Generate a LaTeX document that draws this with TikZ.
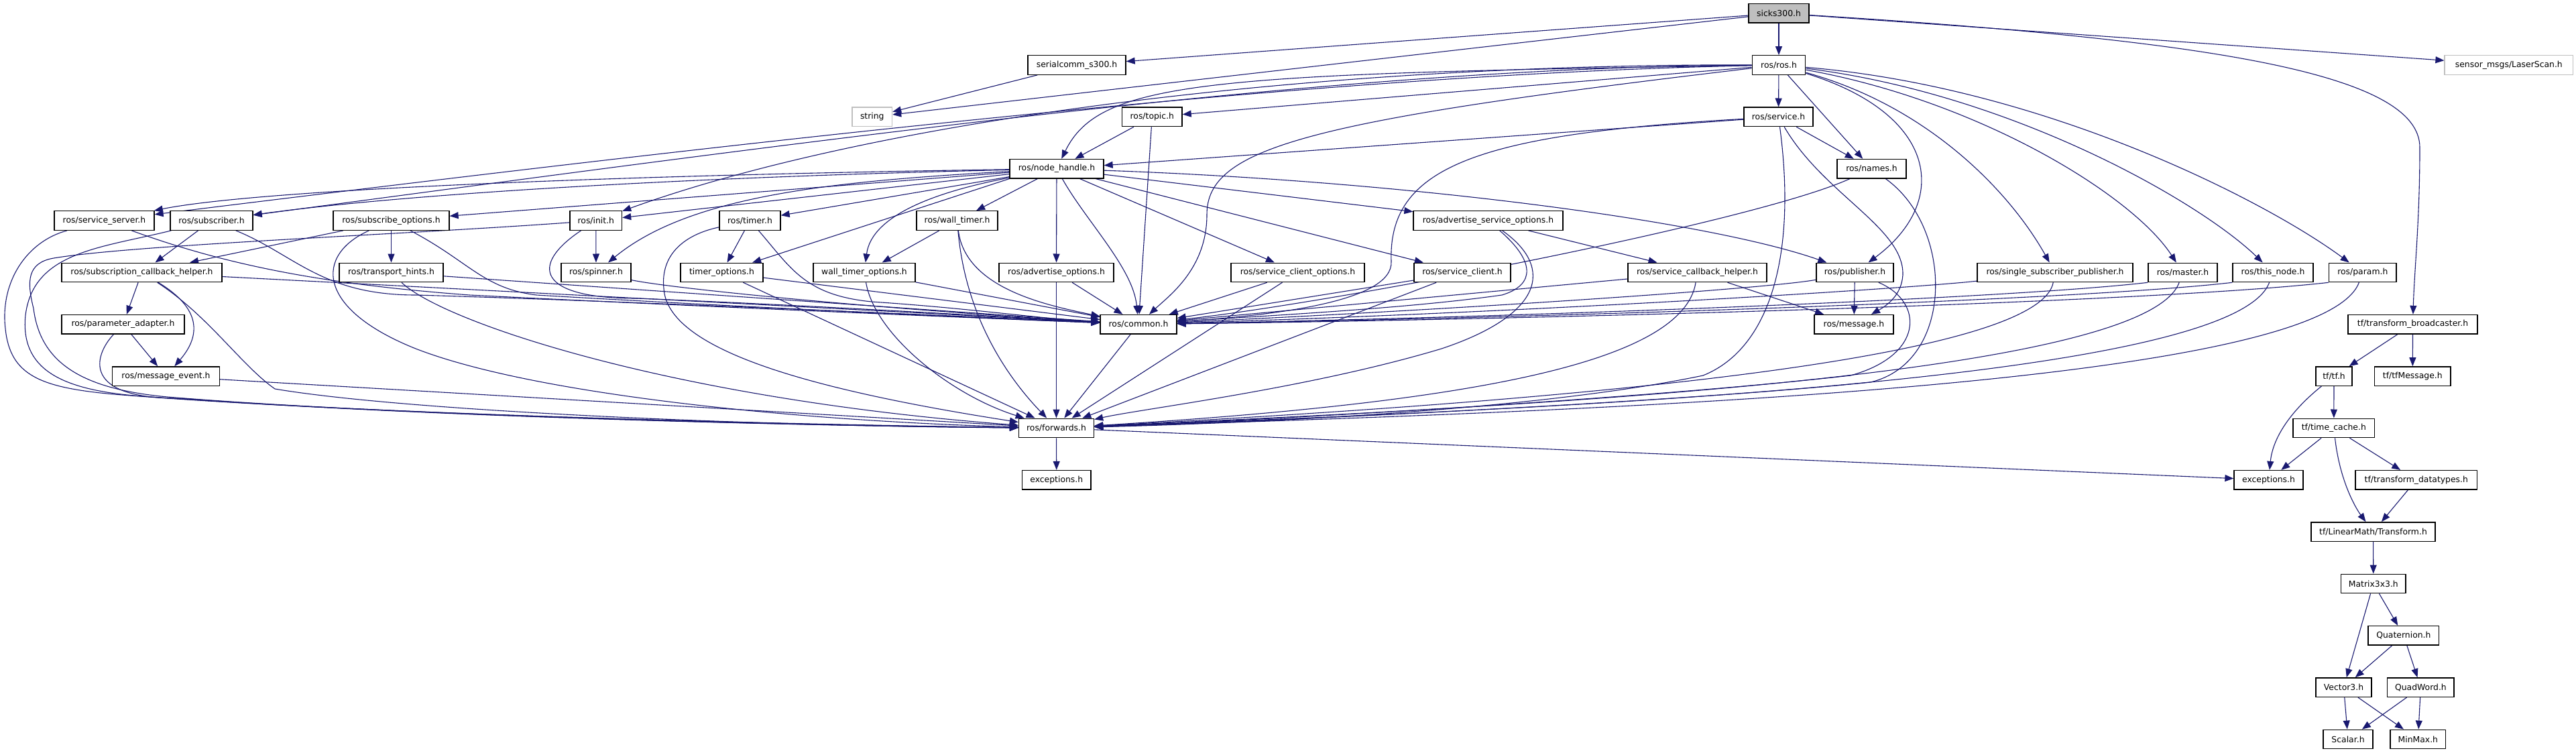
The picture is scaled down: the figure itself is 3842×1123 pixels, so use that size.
\documentclass[tikz,border=0pt]{standalone}
\usepackage{fontspec}
\setmainfont{DejaVu Sans}
\usetikzlibrary{arrows.meta}
\pgfdeclarelayer{bg}
\pgfsetlayers{bg,main}
\definecolor{edgeblue}{HTML}{191970}
\definecolor{lgray}{HTML}{BFBFBF}
\begin{document}
\begin{tikzpicture}[x=1pt,y=-1pt,
  box/.style={draw=black,line width=1.3pt,fill=white,minimum height=28.5pt,inner sep=0pt,font=\fontsize{12.4}{14}\selectfont},
  gbox/.style={box,draw=lgray},
  rootbox/.style={box,fill=lgray},
  dep/.style={draw=edgeblue,line width=1.1pt,-{Triangle[length=13pt,width=10pt]}}]
\useasboundingbox (0,0) rectangle (3842,1123);
% row 0-3
\node[rootbox,minimum width=90pt] (sicks) at (2653,19.7) {sicks300.h};
\node[box,minimum width=146pt] (serial) at (1606,97) {serialcomm\_s300.h};
\node[box,minimum width=79.5pt] (rosh) at (2653,97) {ros/ros.h};
\node[gbox,minimum width=191.5pt] (laser) at (3741.8,97) {sensor\_msgs/LaserScan.h};
\node[gbox,minimum width=59.5pt] (string) at (1300.8,174.4) {string};
\node[box,minimum width=89.5pt] (topic) at (1718.3,174.4) {ros/topic.h};
\node[box,minimum width=103pt] (service) at (2652.5,174.4) {ros/service.h};
\node[box,minimum width=140pt] (nh) at (1576,251.7) {ros/node\_handle.h};
\node[box,minimum width=103pt] (names) at (2791.5,251.7) {ros/names.h};
% row 4
\node[box,minimum width=149pt] (sserver) at (155.5,329) {ros/service\_server.h};
\node[box,minimum width=123pt] (subscriber) at (315.5,329) {ros/subscriber.h};
\node[box,minimum width=173pt] (subopts) at (583.5,329) {ros/subscribe\_options.h};
\node[box,minimum width=77.5pt] (init) at (888.8,329) {ros/init.h};
\node[box,minimum width=91pt] (timer) at (1118.5,329) {ros/timer.h};
\node[box,minimum width=121pt] (wtimer) at (1427.5,329) {ros/wall\_timer.h};
\node[box,minimum width=223pt] (asopts) at (2219.5,329) {ros/advertise\_service\_options.h};
% row 5
\node[box,minimum width=239pt] (sch) at (211.5,406.4) {ros/subscription\_callback\_helper.h};
\node[box,minimum width=155pt] (thints) at (583.5,406.4) {ros/transport\_hints.h};
\node[box,minimum width=104pt] (spinner) at (889,406.4) {ros/spinner.h};
\node[box,minimum width=123pt] (topts) at (1076.5,406.4) {timer\_options.h};
\node[box,minimum width=152pt] (wtopts) at (1289,406.4) {wall\_timer\_options.h};
\node[box,minimum width=171pt] (aopts) at (1575.5,406.4) {ros/advertise\_options.h};
\node[box,minimum width=199pt] (scopts) at (1935.5,406.4) {ros/service\_client\_options.h};
\node[box,minimum width=144pt] (sclient) at (2181,406.4) {ros/service\_client.h};
\node[box,minimum width=207pt] (scbh) at (2531.5,406.4) {ros/service\_callback\_helper.h};
\node[box,minimum width=115pt] (publisher) at (2766.5,406.4) {ros/publisher.h};
\node[box,minimum width=232pt] (ssp) at (3065,406.4) {ros/single\_subscriber\_publisher.h};
\node[box,minimum width=103pt] (master) at (3255.5,406.4) {ros/master.h};
\node[box,minimum width=120pt] (thisnode) at (3390,406.4) {ros/this\_node.h};
\node[box,minimum width=100.5pt] (param) at (3523.8,406.4) {ros/param.h};
% row 6-8
\node[box,minimum width=183pt] (padapter) at (183.5,483.7) {ros/parameter\_adapter.h};
\node[box,minimum width=114pt] (common) at (1698,483.7) {ros/common.h};
\node[box,minimum width=118pt] (message) at (2765,483.7) {ros/message.h};
\node[box,minimum width=193pt] (tfb) at (3598.5,483.7) {tf/transform\_broadcaster.h};
\node[box,minimum width=160pt] (mevent) at (247.5,561.1) {ros/message\_event.h};
\node[box,minimum width=54pt] (tftf) at (3481,561.1) {tf/tf.h};
\node[box,minimum width=113.5pt] (tfmsg) at (3598.3,561.1) {tf/tfMessage.h};
\node[box,minimum width=112pt] (forwards) at (1575.5,638.4) {ros/forwards.h};
\node[box,minimum width=121.5pt] (tcache) at (3480.8,638.4) {tf/time\_cache.h};
% row 9-14
\node[box,minimum width=102.5pt] (exros) at (1575.8,715.8) {exceptions.h};
\node[box,minimum width=103pt] (extf) at (3383.5,715.8) {exceptions.h};
\node[box,minimum width=181.6pt] (tdt) at (3603.8,715.8) {tf/transform\_datatypes.h};
\node[box,minimum width=185pt] (transform) at (3539.5,793.1) {tf/LinearMath/Transform.h};
\node[box,minimum width=96.5pt] (matrix) at (3539.8,870.5) {Matrix3x3.h};
\node[box,minimum width=105.7pt] (quat) at (3584.9,947.8) {Quaternion.h};
\node[box,minimum width=83pt] (vector) at (3495.5,1025.2) {Vector3.h};
\node[box,minimum width=99.3pt] (quadword) at (3610.4,1025.2) {QuadWord.h};
\node[box,minimum width=74pt] (scalar) at (3502,1102.5) {Scalar.h};
\node[box,minimum width=82.5pt] (minmax) at (3606.3,1102.5) {MinMax.h};

\begin{pgfonlayer}{bg}
\fill[white] (0,0) rectangle (3842,1123);
% sicks300.h
\draw[dep] (sicks) -- (serial);
\draw[dep] (sicks) -- (string);
\draw[dep] (sicks) -- (rosh);
\draw[dep] (sicks) -- (laser);
\draw[dep] (sicks) .. controls (3300,60) and (3609,110) .. (3609,220) .. controls (3609,330) and (3601,400) .. (tfb);
\draw[dep] (serial) -- (string);
% ros/ros.h
\draw[dep] (rosh) .. controls (2000,110) and (1200,200) .. (sserver);
\draw[dep] (rosh) .. controls (2000,100) and (1250,205) .. (subscriber);
\draw[dep] (rosh) .. controls (1950,95) and (1300,180) .. (init);
\draw[dep] (rosh) .. controls (1800,110) and (1640,120) .. (nh);
\draw[dep] (rosh) -- (topic);
\draw[dep] (rosh) .. controls (1950,180) and (1800,220) .. (1800,320) .. controls (1800,400) and (1745,440) .. (common);
\draw[dep] (rosh) -- (service);
\draw[dep] (rosh) -- (names);
\draw[dep] (rosh) .. controls (2890,170) and (2910,300) .. (publisher);
\draw[dep] (rosh) .. controls (2880,160) and (3000,290) .. (ssp);
\draw[dep] (rosh) .. controls (2950,150) and (3180,290) .. (master);
\draw[dep] (rosh) .. controls (3000,140) and (3280,300) .. (thisnode);
\draw[dep] (rosh) .. controls (3050,130) and (3380,300) .. (param);
% ros/service.h
\draw[dep] (service) -- (nh);
\draw[dep] (service) -- (names);
\draw[dep] (service) .. controls (2720,290) and (2840,340) .. (2838,410) .. controls (2836,440) and (2815,455) .. (message);
\draw[dep] (service) .. controls (2680,380) and (2640,520) .. (2540,560) .. controls (2300,610) and (1900,630) .. (forwards);
\draw[dep] (service) .. controls (2200,200) and (2070,250) .. (2075,390) .. controls (2078,450) and (1900,470) .. (common);
% ros/names.h
\draw[dep] (names) .. controls (2620,330) and (2000,450) .. (common);
\draw[dep] (names) .. controls (2915,340) and (2915,540) .. (2790,570) .. controls (2500,600) and (1900,628) .. (forwards);
% ros/publisher.h
\draw[dep] (publisher) -- (message);
\draw[dep] (publisher) .. controls (2640,430) and (2200,460) .. (common);
\draw[dep] (publisher) .. controls (2870,450) and (2870,530) .. (2760,560) .. controls (2450,595) and (1900,626) .. (forwards);
% right row 5
\draw[dep] (ssp) .. controls (2850,430) and (2300,465) .. (common);
\draw[dep] (ssp) .. controls (3040,540) and (2300,600) .. (forwards);
\draw[dep] (master.south west) .. controls (3000,445) and (2300,472) .. (common);
\draw[dep] (master) .. controls (3200,560) and (2300,605) .. (forwards);
\draw[dep] (thisnode.south west) .. controls (3100,448) and (2300,474) .. (common);
\draw[dep] (thisnode) .. controls (3330,570) and (2300,610) .. (forwards);
\draw[dep] (param.south west) .. controls (3200,452) and (2300,476) .. (common);
\draw[dep] (param) .. controls (3460,580) and (2300,615) .. (forwards);
\draw[dep] (scbh) -- (message);
\draw[dep] (scbh) -- (common);
\draw[dep] (scbh) .. controls (2510,540) and (2200,600) .. (forwards);
\draw[dep] (asopts) -- (scbh);
\draw[dep] (asopts) .. controls (2290,390) and (2290,425) .. (2240,440) .. controls (2100,460) and (1900,470) .. (common);
\draw[dep] (asopts) .. controls (2320,400) and (2300,470) .. (2150,520) .. controls (1950,580) and (1700,610) .. (forwards);
\draw[dep] (sclient) -- (common);
\draw[dep] (sclient) -- (forwards);
\draw[dep] (scopts) -- (common);
\draw[dep] (scopts) -- (forwards);
\draw[dep] (aopts) -- (common);
\draw[dep] (aopts) -- (forwards);
\draw[dep] (common) -- (forwards);
% ros/topic.h
\draw[dep] (topic) -- (nh);
\draw[dep] (topic) -- (common);
% ros/node_handle.h
\draw[dep] (nh) .. controls (1000,260) and (400,280) .. (sserver);
\draw[dep] (nh) .. controls (1000,265) and (600,290) .. (subscriber);
\draw[dep] (nh) -- (subopts);
\draw[dep] (nh) -- (init);
\draw[dep] (nh) .. controls (1250,270) and (1030,290) .. (spinner);
\draw[dep] (nh) -- (timer);
\draw[dep] (nh.south west) -- (topts);
\draw[dep] (nh) -- (wtimer);
\draw[dep] (nh) .. controls (1400,285) and (1300,320) .. (wtopts);
\draw[dep] (nh) -- (aopts);
\draw[dep] (nh) .. controls (1620,330) and (1690,400) .. (common);
\draw[dep] (nh) -- (scopts);
\draw[dep] (nh) -- (sclient);
\draw[dep] (nh) -- (asopts);
\draw[dep] (nh) .. controls (2100,270) and (2550,330) .. (publisher);
% left side
\draw[dep] (sserver) .. controls (350,400) and (500,425) .. (700,440) .. controls (1000,455) and (1400,472) .. (common);
\draw[dep] (sserver) .. controls (40,360) and (0,420) .. (8,490) .. controls (15,560) and (60,578) .. (170,588) .. controls (500,615) and (1100,632) .. (forwards);
\draw[dep] (subscriber) -- (sch);
\draw[dep] (subscriber) .. controls (440,380) and (480,440) .. (620,440) .. controls (900,448) and (1400,470) .. (common);
\draw[dep] (subscriber) .. controls (150,370) and (50,375) .. (38,470) .. controls (30,550) and (90,580) .. (200,590) .. controls (520,615) and (1100,633) .. (forwards);
\draw[dep] (subopts) -- (sch);
\draw[dep] (subopts) -- (thints);
\draw[dep] (subopts) .. controls (700,390) and (720,430) .. (800,440) .. controls (1000,452) and (1400,472) .. (common);
\draw[dep] (subopts) .. controls (470,380) and (470,460) .. (620,520) .. controls (800,590) and (1200,628) .. (forwards);
\draw[dep] (sch) -- (padapter);
\draw[dep] (sch) .. controls (300,460) and (300,500) .. (mevent);
\draw[dep] (sch) .. controls (310,470) and (360,545) .. (410,580) .. controls (600,612) and (1100,635) .. (forwards);
\draw[dep] (sch) -- (common);
\draw[dep] (padapter) -- (mevent);
\draw[dep] (padapter) .. controls (140,530) and (120,595) .. (270,594) .. controls (560,617) and (1100,634) .. (forwards);
\draw[dep] (mevent) -- (forwards);
\draw[dep] (thints) -- (common);
\draw[dep] (thints) .. controls (660,480) and (1000,595) .. (forwards);
\draw[dep] (init) -- (spinner);
\draw[dep] (init) .. controls (790,395) and (800,445) .. (950,445) .. controls (1200,455) and (1450,470) .. (common);
\draw[dep] (init) .. controls (600,350) and (200,365) .. (80,385) .. controls (40,392) and (40,420) .. (50,460) .. controls (60,540) and (120,580) .. (250,592) .. controls (540,616) and (1100,634) .. (forwards);
\draw[dep] (spinner) .. controls (1000,430) and (1300,460) .. (common);
\draw[dep] (timer) -- (topts);
\draw[dep] (timer) .. controls (1180,400) and (1200,440) .. (1300,450) .. controls (1450,460) and (1550,475) .. (common);
\draw[dep] (timer) .. controls (1020,350) and (985,380) .. (990,430) .. controls (995,520) and (1200,580) .. (forwards);
\draw[dep] (topts) -- (common);
\draw[dep] (topts) -- (forwards);
\draw[dep] (wtopts) -- (common);
\draw[dep] (wtopts) .. controls (1305,500) and (1420,590) .. (forwards);
\draw[dep] (wtimer) -- (wtopts);
\draw[dep] (wtimer) .. controls (1440,430) and (1560,455) .. (common);
\draw[dep] (wtimer) .. controls (1440,470) and (1500,560) .. (forwards);
% forwards
\draw[dep] (forwards) -- (exros);
\draw[dep] (forwards) -- (extf);
% tf
\draw[dep] (tfb) -- (tftf);
\draw[dep] (tfb) -- (tfmsg);
\draw[dep] (tftf) .. controls (3420,610) and (3390,650) .. (extf);
\draw[dep] (tftf) -- (tcache);
\draw[dep] (tcache) -- (extf);
\draw[dep] (tcache) -- (tdt);
\draw[dep] (tcache) .. controls (3490,720) and (3515,760) .. (transform);
\draw[dep] (tdt) -- (transform);
\draw[dep] (transform) -- (matrix);
\draw[dep] (matrix) -- (vector);
\draw[dep] (matrix) -- (quat);
\draw[dep] (quat) -- (vector);
\draw[dep] (quat) -- (quadword);
\draw[dep] (vector) -- (scalar);
\draw[dep] (vector) -- (minmax);
\draw[dep] (quadword) -- (scalar);
\draw[dep] (quadword) -- (minmax);
\end{pgfonlayer}
\end{tikzpicture}
\end{document}
